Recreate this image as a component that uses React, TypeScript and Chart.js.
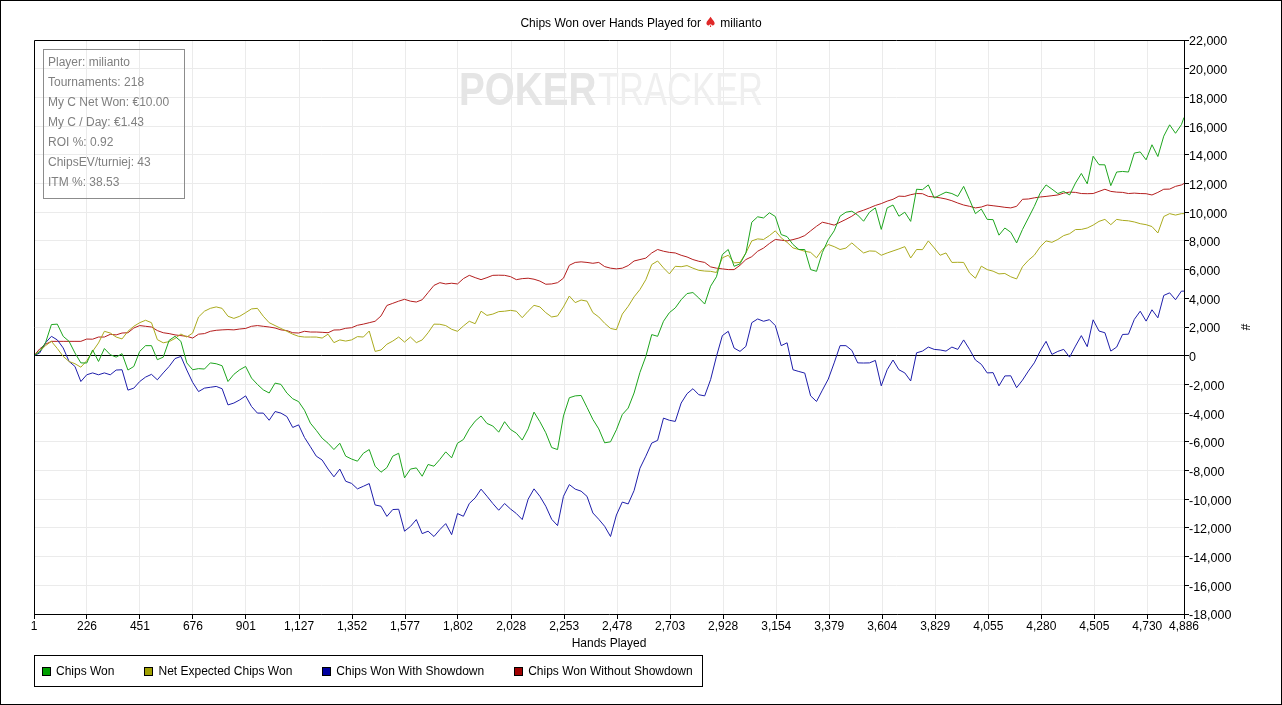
import { useEffect, useRef } from 'react';
import { Chart, registerables } from 'chart.js';

Chart.register(...registerables);

// x positions (hands played) where the curves were sampled
const hands = [
    1, 25, 50, 75, 100, 125, 150, 175,
    200, 225, 250, 275, 300, 325, 350, 375,
    400, 425, 450, 475, 500, 525, 550, 575,
    600, 625, 650, 675, 700, 725, 750, 775,
    800, 825, 850, 875, 900, 925, 950, 975,
    1000, 1025, 1050, 1075, 1100, 1125, 1150, 1175,
    1200, 1225, 1250, 1275, 1300, 1325, 1350, 1375,
    1400, 1425, 1450, 1475, 1500, 1525, 1550, 1575,
    1600, 1625, 1650, 1675, 1700, 1725, 1750, 1775,
    1800, 1825, 1850, 1875, 1900, 1925, 1950, 1975,
    2000, 2025, 2050, 2075, 2100, 2125, 2150, 2175,
    2200, 2225, 2250, 2275, 2300, 2325, 2350, 2375,
    2400, 2425, 2450, 2475, 2500, 2525, 2550, 2575,
    2600, 2625, 2650, 2675, 2700, 2725, 2750, 2775,
    2800, 2825, 2850, 2875, 2900, 2925, 2950, 2975,
    3000, 3025, 3050, 3075, 3100, 3125, 3150, 3175,
    3200, 3225, 3250, 3275, 3300, 3325, 3350, 3375,
    3400, 3425, 3450, 3475, 3500, 3525, 3550, 3575,
    3600, 3625, 3650, 3675, 3700, 3725, 3750, 3775,
    3800, 3825, 3850, 3875, 3900, 3925, 3950, 3975,
    4000, 4025, 4050, 4075, 4100, 4125, 4150, 4175,
    4200, 4225, 4250, 4275, 4300, 4325, 4350, 4375,
    4400, 4425, 4450, 4475, 4500, 4525, 4550, 4575,
    4600, 4625, 4650, 4675, 4700, 4725, 4750, 4775,
    4800, 4825, 4850, 4875, 4886,
];

const chipsWon = [
    0, 300, 900, 2170, 2200, 1350, 1000, 190,
    -500, -510, 400, -400, 500, 70, -100, 140,
    -1000, -750, 300, 700, 700, -280, -100, 1070,
    1350, 1000, -500, -980, -900, -930, -500, -560,
    -700, -1800, -1300, -980, -750, -1560, -2000, -2380,
    -2600, -1910, -2000, -2600, -3000, -3200, -3800, -4700,
    -5200, -5750, -6100, -6540, -6100, -7000, -7200, -7350,
    -6800, -6540, -7700, -8120, -7800, -7000, -6800, -8510,
    -7900, -7820, -8400, -7580, -7700, -7230, -6700, -7120,
    -6100, -5840, -5100, -4560, -4200, -4720, -4900, -5330,
    -4600, -5140, -5400, -5880, -5100, -3930, -4600, -5370,
    -6400, -6540, -4200, -2930, -2800, -2770, -3600, -4440,
    -5100, -6070, -6000, -5160, -4100, -3650, -2600, -1160,
    -50, 1470, 1350, 2400, 3000, 3330, 3900, 4330,
    4400, 4020, 3600, 4840, 5500, 7050, 7400, 6230,
    6400, 7160, 9300, 9680, 9600, 9960, 9700, 8440,
    8300, 7750, 7400, 7400, 6000, 5880, 7200, 8090,
    8700, 9720, 10000, 10070, 9800, 9370, 10000, 10300,
    8800, 10300, 10500, 9720, 10000, 9360, 11600, 11570,
    11900, 10990, 11200, 11400, 11300, 11100, 11800, 10870,
    9900, 10220, 9500, 9480, 8400, 8900, 8600, 7860,
    8800, 9600, 10400, 11330, 11900, 11610, 11300, 11450,
    11200, 12030, 12700, 11980, 13900, 13310, 13300, 11850,
    12800, 12840, 12800, 14120, 14200, 13650, 14700, 13880,
    15300, 16090, 15500, 16100, 16600,
];

const netExpected = [
    0, 300, 700, 1000, 500, -50, -400, -560,
    -800, -350, 300, 890, 1700, 1580, 1300, 1170,
    1700, 2050, 2300, 2470, 2300, 1120, 900, 980,
    1200, 1510, 1300, 1580, 2700, 3100, 3300, 3400,
    3300, 2750, 2600, 2750, 3000, 3260, 3300, 2750,
    2300, 2100, 1900, 1700, 1500, 1350, 1300, 1300,
    1300, 1230, 1500, 910, 1100, 1020, 1100, 1330,
    1300, 1720, 300, 400, 800, 1020, 1300, 950,
    1300, 910, 1100, 1600, 2200, 2190, 2100, 1840,
    1700, 2070, 2400, 2230, 3100, 2810, 2900, 3070,
    3100, 3160, 3100, 2650, 3100, 3510, 3400, 3000,
    2700, 2770, 3400, 4160, 3700, 3880, 3800, 3000,
    2700, 2260, 1900, 1810, 2900, 3440, 4100, 4610,
    5300, 6350, 6600, 6120, 5700, 6230, 6200, 6280,
    6100, 5950, 5900, 5880, 5800, 6820, 7000, 6470,
    6500, 7160, 8000, 8140, 8100, 8370, 8700, 8210,
    7900, 7510, 7400, 7280, 7200, 6820, 7400, 7750,
    7600, 7400, 7500, 7860, 7500, 7160, 7300, 7280,
    7000, 7160, 7300, 7440, 7600, 6810, 7400, 7390,
    8000, 7510, 7000, 7160, 6500, 6510, 6500, 5770,
    5400, 6240, 6000, 5890, 5700, 5730, 5500, 5350,
    6200, 6650, 7000, 7580, 8000, 7900, 8100, 8370,
    8500, 8790, 8800, 8900, 9100, 9360, 9500, 9130,
    9500, 9430, 9400, 9320, 9200, 9130, 9000, 8550,
    9700, 9900, 9800, 9900, 9900,
];

const withShowdown = [
    0, 190, 900, 1350, 1100, 540, -400, -750,
    -1800, -1330, -1200, -1330, -1200, -1330, -1000, -980,
    -2400, -2260, -1800, -1490, -1300, -1680, -1200, -750,
    -200, -50, -1000, -1860, -2500, -2260, -2200, -2140,
    -2300, -3430, -3300, -3080, -2800, -3540, -4000, -4000,
    -4500, -3890, -4000, -4240, -5000, -4820, -5700, -6340,
    -7000, -7270, -7900, -8440, -7900, -8750, -8900, -9280,
    -9100, -8910, -10400, -10490, -11200, -10720, -10700, -12230,
    -11900, -11420, -12400, -12230, -12600, -12120, -11700, -12470,
    -11000, -11190, -10300, -9910, -9300, -9790, -10300, -10770,
    -10300, -10680, -11000, -11420, -10000, -9280, -9800, -10490,
    -11400, -11840, -9800, -8980, -9300, -9440, -9800, -10960,
    -11400, -11890, -12600, -11100, -10200, -10330, -9400, -7840,
    -7000, -6090, -5900, -4350, -4500, -4580, -3300, -2650,
    -2300, -2720, -2800, -1670, -50, 1400, 1700, 530,
    300, 650, 2300, 2560, 2400, 2510, 2100, 700,
    900, -980, -1100, -1210, -2800, -3190, -2400, -1630,
    -500, 700, 700, 370, -500, -510, -500, -330,
    -2100, -980, -300, -980, -1200, -1760, 200, 320,
    600, 440, 400, 320, 600, 440, 1100, 440,
    -300, -600, -1200, -1180, -2100, -1410, -1400, -2230,
    -1700, -1070, -500, 320, 1000, 90, 300, 440,
    -100, 670, 1400, 630, 2500, 1720, 1600, 320,
    600, 1480, 1500, 2530, 3100, 2410, 3200, 2640,
    4200, 4380, 3900, 4500, 4500,
];

const withoutShowdown = [
    0, 470, 800, 1000, 1000, 1000, 1000, 1000,
    1000, 1160, 1150, 1300, 1300, 1490, 1450, 1580,
    1600, 1930, 2100, 2050, 2000, 1750, 1600, 1540,
    1450, 1400, 1350, 1230, 1500, 1540, 1700, 1770,
    1800, 1820, 1800, 1860, 1900, 2050, 2100, 2050,
    2000, 1930, 1800, 1750, 1600, 1580, 1700, 1650,
    1650, 1630, 1600, 1790, 1800, 1910, 1950, 2120,
    2200, 2300, 2400, 2770, 3500, 3650, 3800, 3930,
    3800, 3740, 3900, 4400, 4900, 5090, 5000, 5050,
    5000, 5370, 5600, 5440, 5300, 5440, 5600, 5610,
    5600, 5510, 5300, 5370, 5400, 5330, 5200, 4980,
    5000, 5090, 5400, 6300, 6500, 6540, 6500, 6440,
    6500, 6210, 6100, 6050, 6100, 6280, 6600, 6700,
    6800, 7160, 7400, 7280, 7200, 7160, 7000, 6880,
    6700, 6580, 6500, 6190, 6100, 6050, 6000, 6000,
    6300, 6700, 6900, 7280, 7500, 7820, 8100, 8050,
    8000, 8090, 8200, 8370, 8700, 9020, 9300, 9210,
    9100, 9300, 9500, 9720, 10000, 10140, 10300, 10470,
    10600, 10770, 10900, 11120, 11100, 11220, 11300, 11290,
    11100, 11060, 11000, 10920, 10800, 10640, 10500, 10410,
    10300, 10360, 10500, 10450, 10400, 10340, 10300, 10410,
    10900, 10920, 11000, 11060, 11100, 11150, 11200, 11330,
    11400, 11380, 11300, 11290, 11300, 11450, 11600, 11450,
    11400, 11380, 11300, 11330, 11300, 11290, 11200, 11380,
    11600, 11610, 11800, 11900, 12000,
];

const handTicks = [
    1, 226, 451, 676, 901, 1127, 1352, 1577, 1802, 2028, 2253, 2478,
    2703, 2928, 3154, 3379, 3604, 3829, 4055, 4280, 4505, 4730, 4886,
];

const seriesNames = ['Chips Won', 'Net Expected Chips Won', 'Chips Won With Showdown', 'Chips Won Without Showdown'];
const seriesValues = [chipsWon, netExpected, withShowdown, withoutShowdown];
const lineColors = ['#1ea51e', '#aaaa1e', '#1e1eaa', '#b41e1e'];
const legendColors = ['#00a000', '#a0a000', '#0000a0', '#a00000'];

const infoLines = [
    'Player: milianto',
    'Tournaments: 218',
    'My C Net Won: €10.00',
    'My C / Day: €1.43',
    'ROI %: 0.92',
    'ChipsEV/turniej: 43',
    'ITM %: 38.53',
];

const FONT = '"Liberation Sans", Arial, sans-serif';
const fmt = (v: number | string) => Number(v).toLocaleString('en-US');

// black frame on the top and left of the plot
const plotFrame = {
    id: 'plotFrame',
    afterDatasetsDraw(chart: Chart) {
        const { ctx, chartArea: a } = chart;
        ctx.save();
        ctx.strokeStyle = '#000';
        ctx.lineWidth = 1;
        ctx.beginPath();
        ctx.moveTo(Math.round(a.left) + 0.5, a.bottom);
        ctx.lineTo(Math.round(a.left) + 0.5, Math.round(a.top) + 0.5);
        ctx.lineTo(a.right, Math.round(a.top) + 0.5);
        ctx.stroke();
        ctx.restore();
    },
};

const ChipsChart = () => {
    const canvasRef = useRef<HTMLCanvasElement | null>(null);

    useEffect(() => {
        if (!canvasRef.current) return;

        const chart = new Chart(canvasRef.current, {
            type: 'line',
            data: {
                datasets: seriesValues.map((vals, i) => ({
                    label: seriesNames[i],
                    data: vals.map((v, j) => ({ x: hands[j], y: v })),
                    borderColor: lineColors[i],
                    backgroundColor: lineColors[i],
                    borderWidth: 1,
                    pointRadius: 0,
                    tension: 0,
                })),
            },
            options: {
                responsive: false,
                animation: false,
                layout: { padding: { left: 34, top: 40, right: 0, bottom: 53 } },
                plugins: {
                    legend: { display: false },
                    title: { display: false },
                    tooltip: { enabled: false },
                },
                scales: {
                    x: {
                        type: 'linear',
                        min: 1,
                        max: 4886,
                        afterBuildTicks: (s: any) => {
                            s.ticks = handTicks.map(v => ({ value: v }));
                        },
                        afterFit: (s: any) => {
                            s.height = 38;
                        },
                        ticks: {
                            autoSkip: false,
                            maxRotation: 0,
                            padding: 0,
                            color: '#000',
                            font: { family: FONT, size: 12 },
                            callback: (v: any) => fmt(v),
                        },
                        grid: { color: '#ebebeb', tickColor: '#000', tickLength: 5 },
                        border: { color: '#000' },
                        title: {
                            display: true,
                            text: 'Hands Played',
                            color: '#000',
                            font: { family: FONT, size: 12 },
                            padding: { top: 0, bottom: 1 },
                        },
                    },
                    y: {
                        position: 'right',
                        min: -18000,
                        max: 22000,
                        afterFit: (s: any) => {
                            s.width = 98;
                        },
                        ticks: {
                            stepSize: 2000,
                            padding: 0,
                            labelOffset: 2,
                            color: '#000',
                            font: { family: FONT, size: 12.5 },
                            callback: (v: any) => fmt(v),
                        },
                        grid: {
                            color: (c: any) => (c.tick && c.tick.value === 0 ? '#000' : '#ebebeb'),
                            tickColor: '#000',
                            tickLength: 5,
                        },
                        border: { color: '#000' },
                        title: {
                            display: true,
                            text: '#',
                            color: '#000',
                            font: { family: FONT, size: 12 },
                            padding: { top: 30, bottom: 0 },
                        },
                    },
                },
            },
            plugins: [plotFrame],
        });

        return () => chart.destroy();
    }, []);

    return (
        <canvas
            ref={canvasRef}
            width={1282}
            height={705}
            style={{ position: 'absolute', left: 0, top: 0 }}
        />
    );
};

const App = () => {
    return (
        <div
            style={{
                position: 'fixed',
                left: 0,
                top: 0,
                width: 1282,
                height: 705,
                background: '#fff',
                fontFamily: FONT,
                fontSize: 12,
                overflow: 'hidden',
            }}
        >
            <ChipsChart />

            {/* title */}
            <div
                style={{
                    position: 'absolute',
                    left: 0,
                    top: 14,
                    width: 1282,
                    textAlign: 'center',
                    lineHeight: '16px',
                    color: '#000',
                }}
            >
                Chips Won over Hands Played for{' '}
                <span style={{ color: '#e02828', fontFamily: '"DejaVu Sans", sans-serif', fontSize: 14 }}>♠</span>{' '}
                milianto
            </div>

            {/* watermark */}
            <div
                style={{
                    position: 'absolute',
                    left: 459,
                    top: 66,
                    fontSize: 46,
                    lineHeight: '46px',
                    fontWeight: 'bold',
                    color: '#e5e5e5',
                    transform: 'scaleX(0.84)',
                    transformOrigin: 'left top',
                    whiteSpace: 'nowrap',
                    pointerEvents: 'none',
                }}
            >
                POKER
            </div>
            <div
                style={{
                    position: 'absolute',
                    left: 598,
                    top: 66,
                    fontSize: 46,
                    lineHeight: '46px',
                    color: '#efefef',
                    transform: 'scaleX(0.75)',
                    transformOrigin: 'left top',
                    whiteSpace: 'nowrap',
                    pointerEvents: 'none',
                }}
            >
                TRACKER
            </div>

            {/* stats box */}
            <div
                style={{
                    position: 'absolute',
                    left: 43,
                    top: 49,
                    width: 142,
                    height: 150,
                    boxSizing: 'border-box',
                    border: '1px solid #8c8c8c',
                    padding: '2px 0 0 4px',
                    color: '#808080',
                    lineHeight: '20px',
                    whiteSpace: 'nowrap',
                }}
            >
                {infoLines.map(t => (
                    <div key={t}>{t}</div>
                ))}
            </div>

            {/* legend */}
            <div
                style={{
                    position: 'absolute',
                    left: 34,
                    top: 655,
                    width: 669,
                    height: 32,
                    boxSizing: 'border-box',
                    border: '1px solid #000',
                    display: 'flex',
                    alignItems: 'center',
                    paddingLeft: 7,
                    color: '#000',
                    whiteSpace: 'nowrap',
                }}
            >
                {seriesNames.map((name, i) => (
                    <div key={name} style={{ display: 'flex', alignItems: 'center', marginRight: 30 }}>
                        <span
                            style={{
                                display: 'inline-block',
                                width: 9,
                                height: 9,
                                boxSizing: 'border-box',
                                border: '1px solid #000',
                                background: legendColors[i],
                                marginRight: 5,
                            }}
                        />
                        <span>{name}</span>
                    </div>
                ))}
            </div>

            {/* outer frame */}
            <div
                style={{
                    position: 'absolute',
                    left: 0,
                    top: 0,
                    width: 1282,
                    height: 705,
                    boxSizing: 'border-box',
                    border: '1px solid #000',
                    pointerEvents: 'none',
                }}
            />
        </div>
    );
};

export default App;
